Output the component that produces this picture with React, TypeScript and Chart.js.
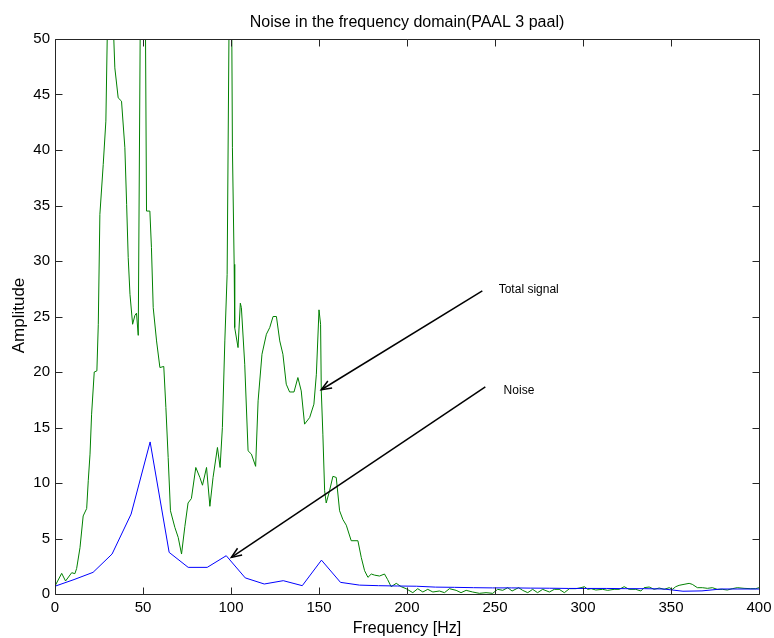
import React, { useEffect, useRef } from 'react';
import { Chart, registerables } from 'chart.js';

Chart.register(...registerables);

const TITLE = 'Noise in the frequency domain(PAAL 3 paal)';
const X_LABEL = 'Frequency [Hz]';
const Y_LABEL = 'Amplitude';

const X_TICKS = [0, 50, 100, 150, 200, 250, 300, 350, 400];
const Y_TICKS = [0, 5, 10, 15, 20, 25, 30, 35, 40, 45, 50];

// Total signal (green)
const signalFreq = [
  0, 3.8, 6, 9.5, 11.3, 12.3, 14.2, 16, 18, 18.9, 19.9, 20.8, 22.3, 23.8, 24.6, 25.5, 27.4, 28.9, 30.5, 32.5,
  34, 35.9, 37.8, 39.7, 40.7, 41.6, 42.6, 44.1, 45.4, 46.3, 47.3, 50, 52, 53.9, 54.8, 55.8, 57.7, 59.6, 61.8, 63,
  64.3, 65.6, 68.1, 70, 71.9, 73.8, 75.6, 77.5, 80, 82.3, 83.8, 86.1, 88, 89.8, 92.3, 93.8, 95.1, 96.5, 97.8, 99.8,
  100.8, 101.8, 102.1, 104, 105.3, 105.9, 107.8, 109.7, 111.6, 114, 115.4, 117.6, 120.1, 122, 123.9, 125.8, 127.7, 129.5, 131.4, 133.3,
  135.8, 138, 139.9, 141.8, 144.7, 147.1, 148.5, 150, 150.9, 151.3, 152.2, 153.2, 154.1, 156, 157.9, 159.8, 161.7, 163.6, 165.5, 168.3,
  172.1, 174, 175.9, 177.8, 179.7, 181.6, 184.4, 187.2, 189, 191, 193.9, 196.7, 199.5, 203.3, 206.1, 209, 211.8, 214.7, 218.4, 221.3,
  224.1, 227.9, 230.7, 233.6, 237.3, 241.1, 244.9, 248.7, 251.5, 254.4, 257.2, 259.7, 263.4, 265.7, 268.6, 271.4, 274.2, 277.1, 280.9, 283.7,
  286.5, 289.4, 292.3, 296, 298.9, 300.8, 302.7, 304.6, 307.3, 311.1, 314, 317.7, 320.6, 323.4, 326.2, 330, 332.9, 334.7, 337.6, 340.4,
  343.3, 346.1, 349, 350.8, 352.7, 354.6, 357.4, 360.3, 362.1, 365, 367.8, 370.7, 373.5, 376.3, 379.2, 382, 384.8, 387.7, 391.5, 395.3,
  398.1, 400,
];
const signalAmp = [
  0.72, 1.86, 1.17, 1.92, 1.83, 2.3, 4.17, 7.03, 7.7, 10.2, 12.6, 16.2, 20.0, 20.1, 24.3, 34.2, 38.7, 42.6, 58, 54,
  47.4, 44.7, 44.4, 40.2, 35.1, 30.3, 27, 24.3, 25.1, 25.3, 23.3, 90, 34.5, 34.5, 31.2, 25.8, 22.8, 20.4, 20.5, 16.8,
  12.3, 7.5, 6.0, 5.1, 3.6, 6.1, 8.2, 8.6, 11.4, 10.5, 9.8, 11.4, 7.9, 10.5, 13.2, 11.4, 15.0, 22.8, 28.8, 70,
  40.2, 29.7, 24, 22.2, 26.2, 25.8, 20.7, 12.9, 12.6, 11.5, 17.4, 21.6, 23.4, 24.0, 25.0, 25.0, 22.8, 21.6, 18.9, 18.2,
  18.2, 19.5, 18.3, 15.3, 15.9, 17.1, 19.8, 25.6, 24.3, 18.3, 14.4, 9.3, 8.2, 9.3, 10.6, 10.5, 7.5, 6.7, 6.2, 4.8,
  4.8, 3.3, 2.1, 1.5, 1.8, 1.7, 1.62, 1.8, 1.3, 0.66, 0.96, 0.66, 0.48, 0.12, 0.48, 0.18, 0.42, 0.18, 0.27, 0.12,
  0.48, 0.33, 0.12, 0.33, 0.18, 0.06, 0.12, 0.06, 0.42, 0.33, 0.57, 0.27, 0.57, 0.33, 0.12, 0.42, 0.12, 0.42, 0.18, 0.42,
  0.42, 0.12, 0.48, 0.48, 0.57, 0.66, 0.42, 0.48, 0.36, 0.42, 0.33, 0.42, 0.42, 0.66, 0.42, 0.42, 0.27, 0.57, 0.63, 0.42,
  0.54, 0.42, 0.57, 0.42, 0.66, 0.78, 0.87, 0.96, 0.87, 0.57, 0.57, 0.51, 0.57, 0.42, 0.42, 0.36, 0.48, 0.57, 0.51, 0.48,
  0.48, 0.57,
];

// Noise (blue)
const noiseFreq = [
  0, 10.81, 21.62, 32.43, 43.24, 54.05, 64.86, 75.68, 86.49, 97.3, 108.1, 118.9, 129.7, 140.5, 151.4, 162.2, 173, 183.8, 194.6,
  205.4, 216.2, 227, 237.8, 248.6, 259.5, 270.3, 281.1, 291.9, 302.7, 313.5, 324.3, 335.1, 345.9, 356.8, 367.6, 378.4, 389.2, 400,
];
const noiseAmp = [
  0.7, 1.3, 1.95, 3.6, 7.2, 13.7, 3.75, 2.4, 2.4, 3.45, 1.45, 0.9, 1.2, 0.75, 3.05, 1.05, 0.8, 0.75, 0.72,
  0.7, 0.62, 0.6, 0.57, 0.55, 0.55, 0.53, 0.52, 0.5, 0.5, 0.5, 0.48, 0.48, 0.45, 0.25, 0.28, 0.45, 0.45, 0.45,
];

// Annotations (data coordinates)
const annotationText = ['Total signal', 'Noise'];
const annotationTextX = [252.1, 254.9];
const annotationTextY = [27.45, 18.3];
const arrowTailX = [242.8, 244.5];
const arrowTailY = [27.3, 18.65];
const arrowHeadX = [151.3, 100.2];
const arrowHeadY = [18.4, 3.3];

const FONT = '"Liberation Sans", Arial, sans-serif';

function drawArrow(ctx: CanvasRenderingContext2D, x1: number, y1: number, x2: number, y2: number) {
  ctx.beginPath();
  ctx.moveTo(x1, y1);
  ctx.lineTo(x2, y2);
  ctx.stroke();
  const ang = Math.atan2(y2 - y1, x2 - x1);
  const len = 11;
  const spread = 0.38;
  ctx.beginPath();
  ctx.moveTo(x2 - len * Math.cos(ang - spread), y2 - len * Math.sin(ang - spread));
  ctx.lineTo(x2, y2);
  ctx.lineTo(x2 - len * Math.cos(ang + spread), y2 - len * Math.sin(ang + spread));
  ctx.stroke();
}

const framePlugin = {
  id: 'matlabFrame',
  afterDraw(chart: any) {
    const { ctx, chartArea: a, scales } = chart;
    const xs = scales.x;
    const ys = scales.y;
    ctx.save();
    ctx.strokeStyle = '#262626';
    ctx.lineWidth = 1;
    const L = Math.round(a.left) + 0.5;
    const R = Math.round(a.right) + 0.5;
    const T = Math.round(a.top) + 0.5;
    const B = Math.round(a.bottom) + 0.5;
    ctx.beginPath();
    ctx.rect(L, T, R - L, B - T);
    ctx.stroke();
    const tl = 7;
    ctx.beginPath();
    X_TICKS.forEach((v) => {
      const px = Math.round(xs.getPixelForValue(v)) + 0.5;
      ctx.moveTo(px, B);
      ctx.lineTo(px, B - tl);
      ctx.moveTo(px, T);
      ctx.lineTo(px, T + tl);
    });
    Y_TICKS.forEach((v) => {
      const py = Math.round(ys.getPixelForValue(v)) + 0.5;
      ctx.moveTo(L, py);
      ctx.lineTo(L + tl, py);
      ctx.moveTo(R, py);
      ctx.lineTo(R - tl, py);
    });
    ctx.stroke();

    // Title
    ctx.fillStyle = '#000';
    ctx.font = `16px ${FONT}`;
    ctx.textAlign = 'center';
    ctx.textBaseline = 'alphabetic';
    ctx.fillText(TITLE, (a.left + a.right) / 2, 27);

    // X label
    ctx.font = `16px ${FONT}`;
    ctx.fillText(X_LABEL, (a.left + a.right) / 2, 633);

    // Y label
    ctx.font = `17px ${FONT}`;
    ctx.save();
    ctx.translate(24, (a.top + a.bottom) / 2 - 1);
    ctx.rotate(-Math.PI / 2);
    ctx.fillText(Y_LABEL, 0, 0);
    ctx.restore();

    // Annotations
    ctx.strokeStyle = '#000';
    ctx.lineWidth = 1.5;
    for (let i = 0; i < annotationText.length; i++) {
      drawArrow(
        ctx,
        xs.getPixelForValue(arrowTailX[i]),
        ys.getPixelForValue(arrowTailY[i]),
        xs.getPixelForValue(arrowHeadX[i]),
        ys.getPixelForValue(arrowHeadY[i])
      );
    }
    ctx.font = `12px ${FONT}`;
    ctx.textAlign = 'left';
    ctx.textBaseline = 'middle';
    for (let i = 0; i < annotationText.length; i++) {
      ctx.fillText(annotationText[i], xs.getPixelForValue(annotationTextX[i]), ys.getPixelForValue(annotationTextY[i]));
    }
    ctx.restore();
  },
};

export default function App() {
  const ref = useRef<HTMLCanvasElement | null>(null);
  useEffect(() => {
    if (!ref.current) return;
    const chart = new Chart(ref.current, {
      type: 'line',
      data: {
        datasets: [
          {
            label: 'Noise',
            data: noiseFreq.map((f, i) => ({ x: f, y: noiseAmp[i] })),
            borderColor: '#0000ff',
            borderWidth: 1,
            pointRadius: 0,
            tension: 0,
            fill: false,
          },
          {
            label: 'Total signal',
            data: signalFreq.map((f, i) => ({ x: f, y: signalAmp[i] })),
            borderColor: '#008000',
            borderWidth: 1,
            pointRadius: 0,
            tension: 0,
            fill: false,
          },
        ],
      },
      options: {
        animation: false,
        responsive: false,
        maintainAspectRatio: false,
        layout: { padding: { top: 39, right: 15, left: 0, bottom: 0 } },
        plugins: {
          legend: { display: false },
          title: { display: false },
          tooltip: { enabled: false },
        },
        scales: {
          x: {
            type: 'linear',
            min: 0,
            max: 400,
            afterFit: (s: any) => {
              s.height = 44;
              s.paddingLeft = 0;
              s.paddingRight = 0;
            },
            afterBuildTicks: (s: any) => {
              s.ticks = X_TICKS.map((v) => ({ value: v }));
            },
            grid: { display: false, drawTicks: false },
            border: { display: false },
            ticks: {
              padding: 5,
              color: '#000',
              maxRotation: 0,
              autoSkip: false,
              font: { family: FONT, size: 15 },
            },
          },
          y: {
            type: 'linear',
            min: 0,
            max: 50,
            afterFit: (s: any) => {
              s.width = 55;
              s.paddingTop = 0;
              s.paddingBottom = 0;
            },
            afterBuildTicks: (s: any) => {
              s.ticks = Y_TICKS.map((v) => ({ value: v }));
            },
            grid: { display: false, drawTicks: false },
            border: { display: false },
            ticks: {
              padding: 5,
              color: '#000',
              autoSkip: false,
              font: { family: FONT, size: 15 },
            },
          },
        },
      },
      plugins: [framePlugin],
    });
    return () => chart.destroy();
  }, []);
  return (
    <div style={{ position: 'absolute', left: 0, top: 0, width: 774, height: 638, background: '#fff' }}>
      <canvas ref={ref} width={774} height={638} style={{ display: 'block' }} />
    </div>
  );
}
